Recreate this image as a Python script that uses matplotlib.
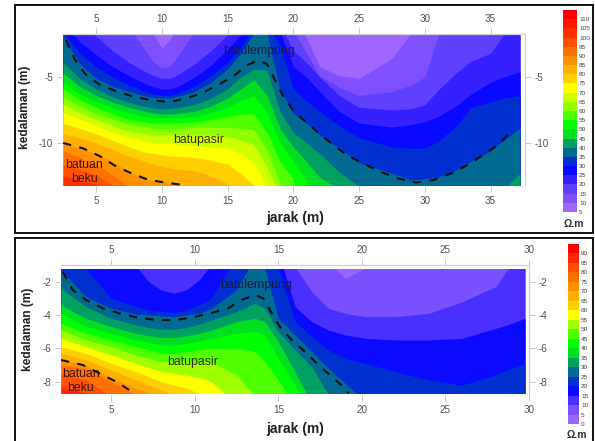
import matplotlib
matplotlib.use("Agg")
import matplotlib.pyplot as plt
from matplotlib.patches import Rectangle

plt.rcParams['font.family'] = ['Liberation Sans', 'DejaVu Sans']
plt.rcParams['axes.unicode_minus'] = False

W, H = 595, 441

# top section: depth where resistivity reaches each level, per column
x1 = [2.5, 3.75, 5, 6.25, 7.5, 8.75, 9.4, 10, 10.6, 11.25, 12.5, 13.75, 15, 16, 17, 18, 19,
      20, 21, 22, 23.5, 25, 27.5, 29, 30, 31, 32.5, 33.5, 35, 36, 37.24]
d1_10 = [-1, -1, -1, -1, -1, -1, -1.8, -2.8, -2.2, -1, -1, -1, -1, -1, -1, -1, -1,
         -0.5, -2, -4.2, -4.9, -5.1, -3.6, -1.6, -1, -1, -1, -1, -1, -1, -1]
d1_15 = [-1, -1, -1, -1, -1.2, -3, -3.9, -4.3, -4.2, -3.4, -1.5, -1, -1, -1, -1, -1, -1,
         -1.4, -3.2, -4.9, -5.8, -6.4, -6.1, -5.6, -5, -1.9, 1, 1, 1, 1, 1]
d1_20 = [-1, -1, -1.9, -3, -3.9, -4.6, -4.9, -5.1, -5.1, -4.8, -4, -3, -1.8, -1, -1, -1, -1,
         -3, -3.9, -5, -6.4, -7.3, -7.5, -7.4, -7.1, -6, -4.6, -3.8, -3.2, -1.8, 0]
d1_25 = [-1, -2.3, -3.3, -4.2, -4.9, -5.5, -5.75, -5.9, -5.9, -5.7, -5, -4.1, -2.9, -1.8, -1, -1, -1.6,
         -4.2, -5, -6.1, -7.6, -8.5, -8.8, -8.6, -8.4, -8, -7.1, -6.3, -5.4, -5, -4.6]
d1_30 = [-1.5, -3.2, -4.2, -5, -5.6, -6.1, -6.3, -6.4, -6.4, -6.2, -5.7, -4.9, -3.9, -2.8, -1.2, -1, -2.6,
         -5.9, -6.8, -7.6, -8.7, -9.6, -10.3, -10.4, -10.4, -9.9, -8.6, -7.3, -6.9, -6.6, -6.4]
d1_35 = [-1.9, -4, -5.1, -5.7, -6.1, -6.45, -6.55, -6.6, -6.6, -6.45, -6.1, -5.4, -4.4, -3.2, -1.7, -1.7, -6,
         -7.7, -8.5, -9.4, -10.4, -11.5, -12.3, -12.8, -12.7, -12.6, -12, -11.4, -10.6, -9.8, -8.9]
d1_40 = [-3.9, -5.1, -5.9, -6.5, -6.9, -7.25, -7.35, -7.4, -7.4, -7.3, -7.1, -6.6, -5.9, -5, -4.4, -4.5, -7.6,
         -9.2, -10, -10.8, -12.2, -13.3, -14, -14, -14, -14, -14, -14, -14, -13.5, -12.3]
d1_45 = [-4.7, -5.7, -6.4, -6.9, -7.3, -7.6, -7.75, -7.8, -7.8, -7.75, -7.6, -7.2, -6.6, -5.9, -5.2, -6.4, -8.9,
         -10.3, -11.4, -12.6, -13.5]
d1_50 = [-5.4, -6.3, -6.9, -7.3, -7.7, -8, -8.1, -8.1, -8.1, -8.1, -8, -7.7, -7.3, -6.8, -6.4, -7.7, -10,
         -11.4, -12.8]
d1_55 = [-5.9, -6.7, -7.3, -7.8, -8.2, -8.4, -8.5, -8.5, -8.5, -8.5, -8.4, -8.2, -8, -7.8, -7.8, -9.2, -11.4,
         -12.7]
d1_60 = [-6.5, -7.2, -7.8, -8.2, -8.6, -8.8, -8.9, -8.9, -8.9, -8.9, -8.8, -8.8, -8.8, -8.9, -9, -10.5, -13]
d1_65 = [-7.1, -7.7, -8.2, -8.7, -9.1, -9.3, -9.4, -9.4, -9.4, -9.4, -9.4, -9.4, -9.5, -9.8, -10.1, -11.8, -14]
d1_70 = [-7.7, -8.2, -8.7, -9.2, -9.6, -9.9, -10, -10, -10, -10.1, -10.2, -10.3, -10.4, -10.8, -11.5, -13.3]
d1_75 = [-8.5, -8.9, -9.3, -9.8, -10.3, -10.7, -10.8, -10.9, -11, -11, -11.1, -11.3, -11.6, -12.3, -13.2]
d1_80 = [-9.3, -9.6, -10, -10.5, -11, -11.4, -11.6, -11.8, -11.9, -12, -12.1, -12.5, -13.1, -13.8]
d1_85 = [-10, -10.4, -10.8, -11.4, -12.2, -12.7, -12.85, -12.95, -13, -13.2, -13.6, -14]
d1_90 = [-10.6, -11.1, -11.6, -12.4, -13.3, -14]
d1_95 = [-11.6, -12, -12.4, -13.2, -14]
d1_100 = [-12.5, -12.8, -13.1, -13.6]
depths1 = [d1_10, d1_15, d1_20, d1_25, d1_30, d1_35, d1_40, d1_45, d1_50, d1_55,
           d1_60, d1_65, d1_70, d1_75, d1_80, d1_85, d1_90, d1_95, d1_100]
scale1 = [5, 10, 15, 20, 25, 30, 35, 40, 45, 50, 55, 60, 65, 70, 75, 80, 85, 90, 95, 100, 105, 110]
colors1 = ['#a066ff', '#8050ff', '#6040ff', '#3520ff', '#0808ff', '#0030d0', '#006a90', '#00a060',
           '#00e020', '#00ff00', '#50ff00', '#90ff00', '#d0ff00', '#ffff00', '#ffd000', '#ffb000',
           '#ff9000', '#ff7000', '#ff5000', '#ff3000', '#ff1800', '#ff0000']

dash1a_x = [2.7, 3.4, 4.2, 5.3, 6.6, 7.9, 9.2, 10.6, 11.9, 13.1, 14.3, 15.5, 16.5, 17.3, 18, 18.5, 19.2, 20.1,
            21.1, 22.1, 23.1, 24.2, 25.4, 26.7, 28, 29.3, 30.7, 32, 33.2, 34.3, 35.5, 36.7]
dash1a_d = [-2.2, -3.7, -4.8, -5.6, -6.1, -6.5, -6.75, -6.9, -6.6, -6.2, -5.6, -4.9, -4.1, -3.75, -4, -5, -6.4, -7.7,
            -8.5, -9.4, -10.2, -11, -11.6, -12.2, -12.7, -13, -12.8, -12.3, -11.7, -11, -10.2, -9]
dash1b_x = [2.5, 4, 5.3, 6.4, 7.7, 9, 10.3, 11.6]
dash1b_d = [-10, -10.4, -11, -11.7, -12.3, -12.8, -13, -13.18]

# bottom section
x2 = [2, 3.5, 5, 6.5, 7.25, 8, 8.75, 9.5, 10.25, 11, 12.5, 13.6, 14.2, 15,
      16, 17, 18, 19, 20.2, 22, 24, 26, 28, 28.7, 29.76]
d2_5 = [-1, -1, -1, -1, -1, -1, -1, -1, -1, -1, -1, -1, -1, -1,
        -1, -1, -0.8, -1.8, -1.2, -1, -1, -1, -1, -1, -1]
d2_10 = [-0.5, -0.5, -0.5, -0.5, -0.5, -0.5, -0.5, -0.5, -0.5, -0.5, -0.5, -0.5, -0.5, -0.5,
         -1.1, -2.6, -3.6, -3.9, -4.1, -4.1, -3.9, -3.2, -2.3, -1.3, -0.5]
d2_15 = [-0.5, -0.5, -0.5, -1.1, -2, -2.5, -2.7, -2.5, -1.9, -1, -0.5, -0.5, -0.5, -0.2,
         -3.5, -4.4, -4.9, -5.2, -5.4, -5.5, -5.5, -5.4, -4.8, -4.6, -4.2]
d2_20 = [-0.5, -1.2, -3, -3.5, -3.7, -3.8, -3.85, -3.7, -3.4, -3, -0.5, -0.5, -0.5, -1.2,
         -4.4, -5.3, -6.1, -6.6, -6.9, -7.4, -7.9, -8.2, -7.6, -7.3, -6.9]
d2_25 = [-1.3, -2.9, -3.6, -3.95, -4, -4.05, -4.1, -4, -3.9, -3.6, -2.5, -0.5, -1.2, -4.2,
         -5.2, -6.2, -7.2, -8.1, -9.2, -10, -10, -10, -10, -10, -10]
d2_30 = [-2.4, -3.5, -4.2, -4.6, -4.75, -4.85, -4.85, -4.75, -4.55, -4.3, -3.8, -3.3, -3.6, -5,
         -6.1, -7.1, -8.8, -10]
d2_35 = [-3.4, -4.2, -4.7, -5.1, -5.25, -5.35, -5.35, -5.25, -5.1, -4.9, -4.4, -4.2, -4.4, -5.6,
         -7.4, -9.3]
d2_40 = [-3.9, -4.7, -5.1, -5.5, -5.65, -5.8, -5.8, -5.7, -5.55, -5.4, -5.1, -5, -5.2, -6.6,
         -8.2, -10]
d2_45 = [-4.5, -5.1, -5.5, -5.9, -6.1, -6.3, -6.3, -6.2, -6.1, -6, -6, -6.2, -6.8, -7.9, -9.5]
d2_50 = [-4.9, -5.5, -5.9, -6.4, -6.6, -6.8, -6.8, -6.8, -6.8, -6.8, -7.6, -8.9, -9.4]
d2_55 = [-5.4, -5.9, -6.4, -6.9, -7.15, -7.4, -7.5, -7.6, -7.75, -8, -9.4]
d2_60 = [-5.9, -6.3, -6.9, -7.4, -7.7, -8, -8.2, -8.4, -8.7, -9.2]
d2_65 = [-6.3, -6.7, -7.3, -7.9, -8.2, -8.5, -8.8, -9.2]
d2_70 = [-6.7, -7, -7.8, -8.4, -8.7, -9]
d2_75 = [-7, -7.2, -8, -8.8]
d2_80 = [-7.5, -7.9, -8.9]
d2_85 = [-8.3, -8.7]
depths2 = [d2_5, d2_10, d2_15, d2_20, d2_25, d2_30, d2_35, d2_40, d2_45, d2_50,
           d2_55, d2_60, d2_65, d2_70, d2_75, d2_80, d2_85]
scale2 = [0, 5, 10, 15, 20, 25, 30, 35, 40, 45, 50, 55, 60, 65, 70, 75, 80, 85, 90]
colors2 = ['#9a66ff', '#7a50ff', '#4a30ff', '#0a0aff', '#0030d0', '#006a90', '#00a060', '#00e020',
           '#00ff00', '#50ff00', '#a0ff00', '#ffff00', '#ffd000', '#ffb000', '#ff9000', '#ff7000',
           '#ff5000', '#ff2800', '#ff0000']

dash2a_x = [2.1, 2.7, 3.5, 4.5, 5.5, 6.6, 7.7, 8.8, 9.8, 10.9, 12, 12.8, 13.6, 14.1, 14.5, 15.1, 15.8, 16.6, 17.4, 18.2, 19, 19.2]
dash2a_d = [-1.4, -2.5, -3.1, -3.6, -3.9, -4.16, -4.3, -4.3, -4.16, -3.9, -3.6, -3.1, -2.8, -3, -3.7, -4.7, -5.5, -6.2, -7, -7.7, -8.4, -8.7]
dash2b_x = [2, 3.3, 4.3, 5.3, 6.4]
dash2b_d = [-6.7, -7, -7.5, -8, -8.7]


def box(l, t, r, b):
    return [l / W, 1 - b / H, (r - l) / W, (b - t) / H]


def section(pos, xlim, ylim, top, bottom, x, depths, colors, xticks, yticks):
    ax = fig.add_axes(box(*pos))
    clip = Rectangle((x[0], bottom), x[-1] - x[0], top - bottom, transform=ax.transData)
    base = ax.fill_between(x, top, bottom, color=colors[0], lw=0)
    base.set_clip_path(clip)
    for i, d in enumerate(depths):
        d = d + [-20] * (len(x) - len(d))
        p = ax.fill_between(x, d, -20, color=colors[i + 1], lw=0)
        p.set_clip_path(clip)
    ax.set_xlim(xlim)
    ax.set_ylim(ylim)
    ax.set_xticks(xticks)
    ax.set_yticks(yticks)
    ax.tick_params(top=True, right=True, labeltop=True, labelright=True, labelsize=7.1,
                   labelcolor='#505050', color='#c8c8c8', length=4, width=0.7, pad=3)
    for s in ax.spines.values():
        s.set_color('#d0d0d0')
        s.set_linewidth(0.9)
    ax.spines['left'].set_visible(False)
    ax.spines['bottom'].set_visible(False)
    return ax


def scalebar(pos, scale, colors, label_y):
    ax = fig.add_axes(box(*pos))
    ax.bar([0] * len(scale), [5] * len(scale), width=1, bottom=scale, color=colors, lw=0)
    ax.set_xlim(-0.5, 0.5)
    ax.set_ylim(scale[0], scale[-1] + 5)
    ax.set_xticks([])
    ax.set_yticks(scale)
    ax.yaxis.tick_right()
    ax.tick_params(length=0, labelsize=4.6, labelcolor='#404040', pad=1.5)
    for s in ax.spines.values():
        s.set_visible(False)
    fig.text((pos[0] + pos[2]) / 2 / W + 0.006, 1 - label_y / H, 'Ω.m', fontsize=7.5, fontweight='bold',
             ha='center', va='center', color='#303030')


fig = plt.figure(figsize=(W / 100, H / 100), dpi=100)

fig.add_artist(Rectangle((15 / W, 1 - 233 / H), 578 / W, 228 / H, transform=fig.transFigure,
                         fill=False, ec='#111111', lw=1.4))
fig.add_artist(Rectangle((15 / W, 1 - 445 / H), 578 / W, 207 / H, transform=fig.transFigure,
                         fill=False, ec='#111111', lw=1.4))

ax1 = section((63, 34, 525, 186), (2.49, 37.62), (-13.26, -1.74), -1.82, -13.18, x1, depths1, colors1,
              [5, 10, 15, 20, 25, 30, 35], [-10, -5])
ax1.plot(dash1a_x, dash1a_d, color='#111111', lw=1.5, ls=(0, (4, 4)))
ax1.plot(dash1b_x, dash1b_d, color='#111111', lw=1.5, ls=(0, (4, 4)))
ax1.text(17.4, -3.0, 'batulempung', fontsize=8.9, ha='center', va='center', color='#1a1a40')
ax1.text(12.8, -9.77, 'batupasir', fontsize=8.8, ha='center', va='center', color='#303000')
ax1.text(4.1, -11.67, 'batuan', fontsize=8.8, ha='center', va='center', color='#401000')
ax1.text(4.1, -12.7, 'beku', fontsize=8.8, ha='center', va='center', color='#401000')

ax2 = section((61, 265, 529, 395), (2, 30), (-8.8, -1), -1.26, -8.7, x2, depths2, colors2,
              [5, 10, 15, 20, 25, 30], [-8, -6, -4, -2])
ax2.plot(dash2a_x, dash2a_d, color='#111111', lw=1.5, ls=(0, (4, 4)))
ax2.plot(dash2b_x, dash2b_d, color='#111111', lw=1.5, ls=(0, (4, 4)))
ax2.text(13.67, -2.2, 'batulempung', fontsize=8.9, ha='center', va='center', color='#1a1a40')
ax2.text(9.9, -6.8, 'batupasir', fontsize=8.8, ha='center', va='center', color='#303000')
ax2.text(3.2, -7.56, 'batuan', fontsize=8.8, ha='center', va='center', color='#401000')
ax2.text(3.15, -8.4, 'beku', fontsize=8.8, ha='center', va='center', color='#401000')

scalebar((563, 10, 577, 212), scale1, colors1, 224)
scalebar((568, 244, 579, 424), scale2, colors2, 435)

fig.text(295 / W, 1 - 218 / H, 'jarak (m)', fontsize=10, fontweight='bold', ha='center', va='center', color='#202020')
fig.text(295 / W, 1 - 429 / H, 'jarak (m)', fontsize=10, fontweight='bold', ha='center', va='center', color='#202020')
fig.text(25 / W, 1 - 107 / H, 'kedalaman (m)', fontsize=8.6, fontweight='bold', rotation=90, ha='center', va='center', color='#202020')
fig.text(27.5 / W, 1 - 329 / H, 'kedalaman (m)', fontsize=8.6, fontweight='bold', rotation=90, ha='center', va='center', color='#202020')

fig.savefig('out.png', dpi=100)
